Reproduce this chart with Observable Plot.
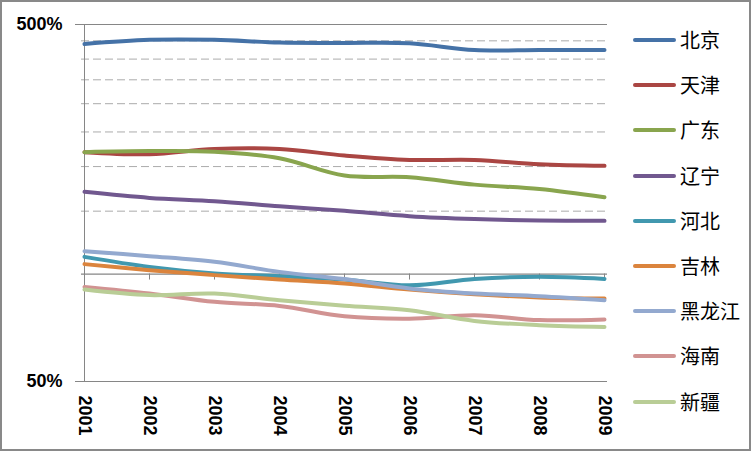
<!DOCTYPE html>
<html>
<head>
<meta charset="utf-8">
<script src="https://cdn.jsdelivr.net/npm/d3@7"></script>
<script src="https://cdn.jsdelivr.net/npm/@observablehq/plot@0.6"></script>
<style>
  html, body { margin: 0; padding: 0; background: #fff; }
  #wrap { position: relative; width: 753px; height: 452px; overflow: hidden; }
  #frame { position: absolute; left: 0; top: 0; width: 751px; height: 451px; box-sizing: border-box; border: 2px solid #898989; pointer-events: none; }
  #chart { position: absolute; left: 0; top: 0; }
  #legend { position: absolute; left: 0; top: 0; width: 753px; height: 452px; pointer-events: none; }
  .item { position: absolute; left: 633px; height: 24px; display: flex; align-items: center; }
  .swatch { width: 43px; height: 4px; border-radius: 2px; margin-right: 4px; }
  .lab { font-family: "Noto Sans CJK SC", sans-serif; font-size: 20px; color: #000; line-height: 24px; }
</style>
</head>
<body>
<div id="wrap">
  <div id="chart"></div>
  <div id="legend"></div>
  <div id="frame"></div>
</div>
<script>
const years = ["2001","2002","2003","2004","2005","2006","2007","2008","2009"];
const provinces = ["北京","天津","广东","辽宁","河北","吉林","黑龙江","海南","新疆"];
const colors = ["#4572A7","#AA4643","#89A54E","#71588F","#4198AF","#DB843D","#93A9CF","#D19392","#B9CD96"];

// values in percent
const beijing      = [441, 453, 453, 445, 444, 443, 424, 424, 424];
const tianjin      = [219.5, 216.5, 224, 224, 214.8, 208.8, 208.8, 203, 200.9];
const guangdong    = [219.5, 221, 220, 211, 188.8, 186.7, 178, 173, 164];
const liaoning     = [169.9, 163.4, 160, 154.9, 150.3, 145.2, 142.5, 141.2, 140.9];
const hebei        = [111.7, 104.7, 100.4, 98.6, 96.5, 93.0, 96.9, 98.2, 96.9];
const jilin        = [106.6, 102.5, 99.3, 96.5, 94.1, 90.5, 87.8, 86.0, 85.4];
const heilongjiang = [115.9, 112.2, 108.2, 101.4, 96.8, 91.1, 88.2, 86.7, 84.5];
const hainan       = [92.0, 88.2, 83.6, 81.4, 76.2, 75.0, 76.7, 74.3, 74.6];
const xinjiang     = [90.5, 87.3, 88.2, 84.5, 81.5, 79.2, 73.9, 71.9, 71.1];

const yTicks = [50, 500];
const minorGrid = [150, 200, 250, 300, 350, 400, 450];
const axisCross = [100];

const series = [beijing, tianjin, guangdong, liaoning, hebei, jilin, heilongjiang, hainan, xinjiang];
const data = provinces.flatMap((p, i) => years.map((y, j) => ({province: p, year: y, value: series[i][j]})));

const gray = "#868686";

const chart = Plot.plot({
  width: 753,
  height: 452,
  marginLeft: 81,
  marginRight: 146,
  marginTop: 24,
  marginBottom: 71,
  style: {fontFamily: "'Liberation Sans', Arial, sans-serif", background: "transparent", color: "#000"},
  x: {type: "point", domain: years, padding: 0},
  y: {type: "log", domain: [50, 500]},
  color: {domain: provinces, range: colors},
  marks: [
    Plot.ruleY(minorGrid, {stroke: "#ababab", strokeWidth: 1, strokeDasharray: "8,4"}),
    Plot.ruleY(yTicks, {stroke: gray, strokeWidth: 1}),
    Plot.ruleX([years[0]], {stroke: gray, strokeWidth: 1}),
    Plot.ruleY(axisCross, {stroke: gray, strokeWidth: 1.3}),
    Plot.ruleX(years, {x: d => d, y1: 100, y2: 100, insetBottom: -6, stroke: gray, strokeWidth: 1}),
    Plot.axisY({ticks: yTicks, tickSize: 6, tickPadding: 13, tickFormat: d => d + "%", fontSize: 18, fontWeight: "bold", stroke: gray, fill: "#000", label: null}),
    Plot.axisX({anchor: "bottom", tickSize: 0, tickPadding: 14, tickRotate: 90, fontSize: 18, fontWeight: "bold", fill: "#000", label: null}),
    Plot.line(data, {x: "year", y: "value", z: "province", stroke: "province", strokeWidth: 4, curve: "catmull-rom", strokeLinejoin: "round", strokeLinecap: "round"})
  ]
});
document.getElementById("chart").appendChild(chart);

const legend = document.getElementById("legend");
provinces.forEach((p, i) => {
  const it = document.createElement("div");
  it.className = "item";
  it.style.top = (28 + i * 45.2) + "px";
  const sw = document.createElement("div");
  sw.className = "swatch";
  sw.style.background = colors[i];
  const lb = document.createElement("span");
  lb.className = "lab";
  lb.textContent = p;
  it.appendChild(sw);
  it.appendChild(lb);
  legend.appendChild(it);
});
</script>
</body>
</html>
